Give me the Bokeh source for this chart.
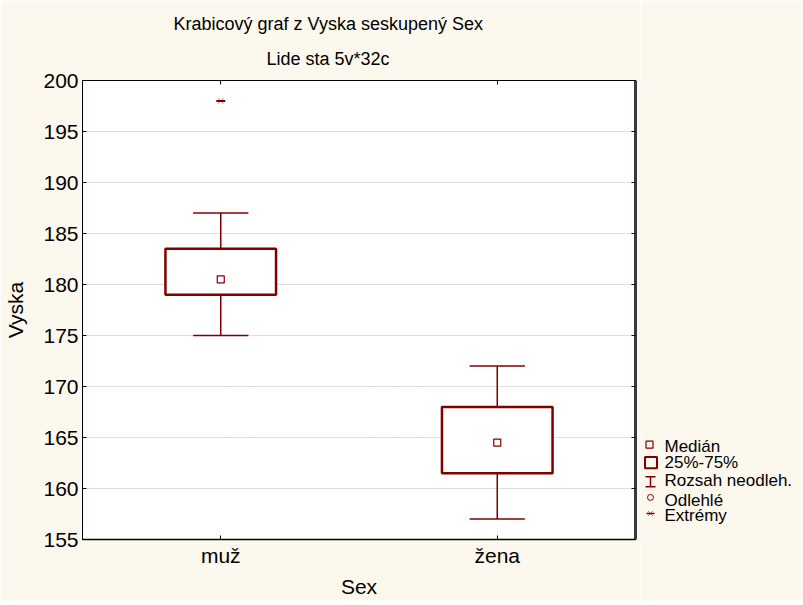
from bokeh.plotting import figure
from bokeh.layouts import row
from bokeh.models import (ColumnDataSource, FactorRange, Range1d, CategoricalAxis,
                          LinearAxis, FixedTicker, Title, CustomLabelingPolicy)
from bokeh.transform import dodge
from bokeh.core.properties import value
from bokeh.embed import file_html
from bokeh.resources import INLINE

# ---------------- data ----------------
categories = ["muž", "žena"]
q1 = [179.0, 161.5]
median = [180.5, 164.5]
q3 = [183.5, 168.0]
whisker_low = [175.0, 157.0]
whisker_high = [187.0, 172.0]
extreme_cat = ["muž"]
extreme_val = [198.0]
y_ticks = [155, 160, 165, 170, 175, 180, 185, 190, 195, 200]

title_lines = ["Krabicový graf z Vyska seskupený Sex", "Lide sta 5v*32c"]
x_label = "Sex"
y_label = "Vyska"
legend_labels = ["Medián", "25%-75%", "Rozsah neodleh.", "Odlehlé", "Extrémy"]

# ---------------- style ----------------
FONT = "Liberation Sans"
DARK = "#800000"
BG = "#FDF8EE"

p = figure(width=640, height=600,
           x_range=FactorRange(factors=categories),
           y_range=Range1d(155, 200),
           output_backend="svg", toolbar_location=None, title_location=None,
           min_border_left=82, min_border_right=5,
           min_border_top=80, min_border_bottom=60,
           background_fill_color="white", border_fill_color=BG,
           outline_line_color="black", outline_line_width=1)

ticker = FixedTicker(ticks=y_ticks)

p.yaxis.ticker = ticker
p.ygrid.ticker = ticker
p.ygrid.grid_line_color = "#bdbdbd"
p.ygrid.grid_line_dash = "1 1"
p.xgrid.grid_line_color = None

for ax in (p.xaxis[0], p.yaxis[0]):
    ax.major_tick_in = 4
    ax.major_tick_out = 0
    ax.minor_tick_line_color = None
    ax.major_tick_line_color = "black"
    ax.axis_line_color = "black"
    ax.major_label_text_font = FONT
    ax.major_label_text_font_size = "21px"
    ax.major_label_text_color = "black"
    ax.axis_label_text_font = FONT
    ax.axis_label_text_font_size = "21px"
    ax.axis_label_text_font_style = "normal"
    ax.axis_label_text_color = "black"

p.xaxis.axis_label = x_label
p.xaxis.major_label_standoff = 4
p.xaxis.axis_label_standoff = 5
p.xaxis.axis_line_width = 1.5

p.yaxis.axis_label = y_label
p.yaxis.major_label_standoff = 4
p.yaxis.axis_label_standoff = 13

right_ax = LinearAxis(ticker=ticker, major_label_text_font_size="1px",
                      major_label_policy=CustomLabelingPolicy(code="return []"),
                      major_label_standoff=0, major_tick_in=4, major_tick_out=0,
                      minor_tick_line_color=None, axis_line_width=3,
                      axis_line_color="#3a3a3a", major_tick_line_color="black")
p.add_layout(right_ax, "right")

top_ax = CategoricalAxis(major_label_text_font_size="1px",
                         major_label_policy=CustomLabelingPolicy(code="return []"),
                         major_label_standoff=0,
                         major_tick_in=4, major_tick_out=0,
                         axis_line_color="black", major_tick_line_color="black")
p.add_layout(top_ax, "above")

p.add_layout(Title(text=title_lines[1], align="left", offset=184,
                   text_font=FONT, text_font_size="18px", text_font_style="normal",
                   text_color="black", standoff=15), "above")
p.add_layout(Title(text=title_lines[0], align="left", offset=91,
                   text_font=FONT, text_font_size="18px", text_font_style="normal",
                   text_color="black", standoff=12), "above")

src = ColumnDataSource(dict(cat=categories, q1=q1, median=median, q3=q3,
                            lo=whisker_low, hi=whisker_high))

p.segment(x0="cat", y0="q3", x1="cat", y1="hi", source=src,
          line_color=DARK, line_width=1.5)
p.segment(x0="cat", y0="q1", x1="cat", y1="lo", source=src,
          line_color=DARK, line_width=1.5)
p.segment(x0=dodge("cat", -0.1, range=p.x_range), y0="hi",
          x1=dodge("cat", 0.1, range=p.x_range), y1="hi", source=src,
          line_color=DARK, line_width=1.5)
p.segment(x0=dodge("cat", -0.1, range=p.x_range), y0="lo",
          x1=dodge("cat", 0.1, range=p.x_range), y1="lo", source=src,
          line_color=DARK, line_width=1.5)
p.vbar(x="cat", top="q3", bottom="q1", width=0.4, source=src,
       fill_color="white", line_color=DARK, line_width=2.5)
p.scatter(x="cat", y="median", marker="square", size=7, source=src,
          fill_color="white", line_color=DARK, line_width=1.2)
p.scatter(x=extreme_cat, y=extreme_val, marker="dash", size=9,
          line_color=DARK, line_width=2)
p.scatter(x=extreme_cat, y=extreme_val, marker="x", size=8,
          line_color=DARK, line_width=1, line_alpha=0.5)

# ---------------- legend panel ----------------
leg = figure(width=163, height=600, x_range=Range1d(640, 803), y_range=Range1d(600, 0),
             output_backend="svg", toolbar_location=None, title_location=None,
             x_axis_location=None, y_axis_location=None, min_border=0,
             background_fill_color=BG, border_fill_color=BG, outline_line_color=None)
leg.grid.visible = False

leg.scatter([649], [476], marker="square", size=7, fill_color=None,
            line_color=DARK, line_width=1.2)
leg.rect(x=[650.5], y=[499.5], width=12, height=15, fill_color=None,
         line_color=DARK, line_width=2)
leg.segment(x0=[650, 645, 645], y0=[518, 518, 531], x1=[650, 655, 655], y1=[531, 518, 531],
            line_color=DARK, line_width=1.5)
leg.scatter([650], [545], marker="circle", size=6, fill_color=None,
            line_color=DARK, line_width=1)
leg.scatter([650], [566], marker="dash", size=8, line_color=DARK, line_width=1.5)
leg.scatter([650], [566], marker="x", size=7, line_color=DARK, line_width=1, line_alpha=0.5)

leg.text(x=[664] * 5, y=[478.5, 499, 523, 548.5, 568.5], text=legend_labels,
         text_font=value(FONT), text_font_size="17px", text_baseline="alphabetic",
         text_align="left", text_color="black")

layout = row(p, leg)
open("out.html", "w").write(file_html(layout, INLINE))
